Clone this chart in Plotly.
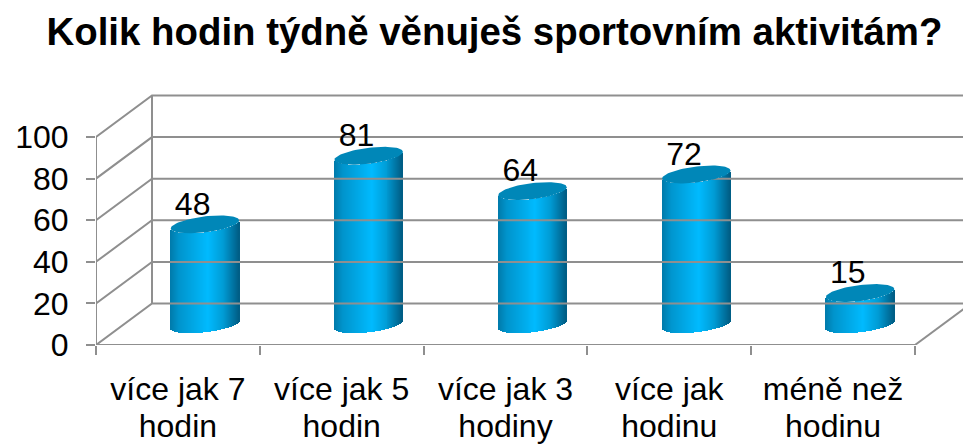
import numpy as np
import plotly.graph_objects as go

categories = ["více jak 7<br>hodin", "více jak 5<br>hodin", "více jak 3<br>hodiny", "více jak<br>hodinu", "méně než<br>hodinu"]
values = [48, 81, 64, 72, 15]
y_ticks = [0, 20, 40, 60, 80, 100]
title_text = "Kolik hodin týdně věnuješ sportovním aktivitám?"

GRID = "#8f8f8f"
FONT = "Liberation Sans, Arial, sans-serif"
TEXT_SIZE = 32

# plot geometry
W, H = 963, 444
ml, mt, mb = 96, 60, 99
xpx = 819 / 5
ypx = 208 / 100
x_range = [-0.5, -0.5 + (W - ml) / xpx]
y_range = [0, (H - mt - mb) / ypx]
depth_x = 56 / xpx
depth_y = 41.5 / ypx
radius_x = 34.2 / xpx
radius_y = 8 / ypx
tilt = 4 / ypx
stops = [(-1.0, (0, 122, 170)), (-0.75, (0, 148, 204)), (0.1, (0, 187, 255)),
         (0.55, (0, 155, 212)), (1.0, (0, 92, 132))]


def shade(u):
    c = [np.interp(u, [s[0] for s in stops], [s[1][k] for s in stops]) for k in range(3)]
    return "rgb(%d,%d,%d)" % tuple(c)


fig = go.Figure()

# axes, walls and floor
wx, wy = [-0.5, -0.5, None, -0.5, 4.5, None], [0, 100, None, 0, 0, None]
for v in y_ticks:
    wx += [-0.5, -0.5 + depth_x, 4.5 + depth_x, None]
    wy += [v, v + depth_y, v + depth_y, None]
wx += [-0.5 + depth_x, -0.5 + depth_x, None, 4.5, 4.5 + depth_x]
wy += [0 + depth_y, 100 + depth_y, None, 0, depth_y]
fig.add_trace(go.Scatter(x=wx, y=wy, mode="lines", line=dict(color=GRID, width=2),
                         cliponaxis=False, hoverinfo="skip", showlegend=False))

# cylinders: side surface in thin strips, cap as ellipse
us = np.linspace(-0.985, 0.985, 69)
bx, bb, by, bc = [], [], [], []
cx0 = 27 / xpx
for i, v in enumerate(values):
    for u in us:
        front = -radius_y * np.sqrt(max(0, 1 - u * u)) + tilt * u
        bx.append(i + cx0 + u * radius_x)
        bb.append(depth_y / 2 + front)
        by.append(v)
        bc.append(shade(u))
fig.add_trace(go.Bar(x=bx, y=by, base=bb, width=[radius_x * 2 / 65] * len(bx),
                     marker=dict(color=bc, line=dict(width=0)),
                     hoverinfo="skip", showlegend=False))

t = np.linspace(0, 2 * np.pi, 90)
for i, v in enumerate(values):
    fig.add_trace(go.Scatter(
        x=i + cx0 + radius_x * np.cos(t),
        y=v + depth_y / 2 + radius_y * np.sin(t) + tilt * np.cos(t),
        mode="lines", fill="toself", fillcolor="#0087B8",
        line=dict(color="#0087B8", width=0),
        hoverinfo="skip", showlegend=False))

# data labels
fig.add_trace(go.Scatter(
    x=[i + 0.09 for i in range(len(values))],
    y=[v + depth_y / 2 + 8.5 for v in values],
    text=[str(v) for v in values], mode="text", textposition="middle center",
    textfont=dict(size=TEXT_SIZE, color="black", family=FONT),
    hoverinfo="skip", showlegend=False))

tick_labels = ['<span style="font-size:32px">%s</span>' % c.replace("<br>", '</span><br><span style="font-size:32px">')
               for c in categories]

fig.update_layout(
    width=W, height=H, autosize=False,
    margin=dict(l=ml, r=0, t=mt, b=mb, autoexpand=False),
    paper_bgcolor="white", plot_bgcolor="white",
    barmode="overlay", bargap=0,
    title=dict(text="<b>%s</b>" % title_text, x=0.5135, xanchor="center", y=0.93, yanchor="middle",
               font=dict(size=38.4, color="black", family=FONT)),
    font=dict(family=FONT, color="black", size=TEXT_SIZE),
    xaxis=dict(range=x_range, tickmode="array", tickvals=list(range(5)), ticktext=tick_labels,
               tickfont=dict(size=28.5),
               ticks="outside", ticklen=20, tickwidth=1, tickcolor="rgba(0,0,0,0)",
               showgrid=False, zeroline=False, showline=False, automargin=False,
               minor=dict(tickmode="array", tickvals=[-0.5, 0.5, 1.5, 2.5, 3.5, 4.5], ticks="outside",
                          ticklen=9, tickwidth=2, tickcolor=GRID, showgrid=False)),
    yaxis=dict(range=y_range, tickmode="array", tickvals=y_ticks, ticks="outside", ticklen=9,
               tickwidth=2, tickcolor=GRID, showgrid=False, zeroline=False, showline=False,
               ticklabelstandoff=11, automargin=False),
)

fig.write_html("out.html", config={"displayModeBar": False},
               post_script="document.body.style.margin='0';document.body.style.overflow='hidden';")
